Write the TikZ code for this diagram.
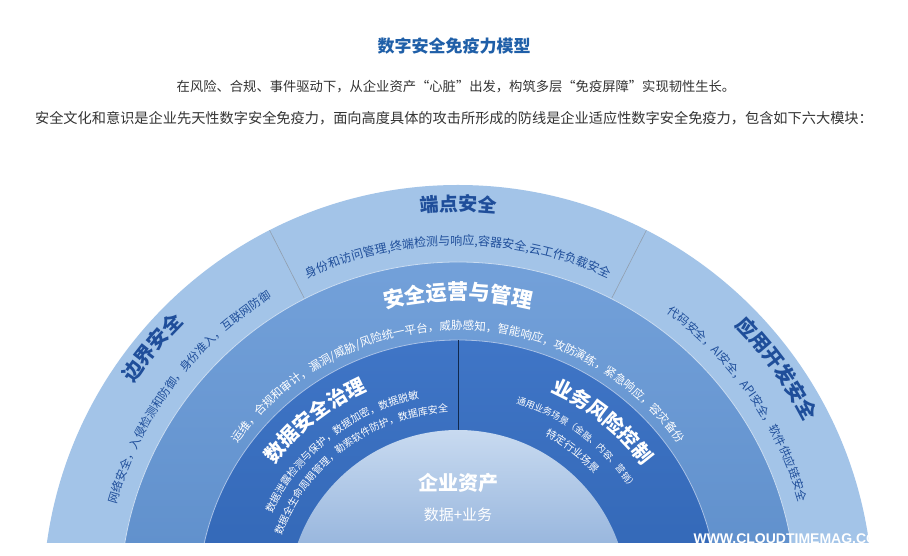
\documentclass[tikz,border=0pt]{standalone}
\usepackage{fontspec}
\setmainfont{Noto Sans CJK SC}
\newfontfamily\wmfont{Liberation Sans}
\usetikzlibrary{decorations.text}
\definecolor{ringA}{HTML}{A3C4E8}
\definecolor{ringB}{HTML}{5089D0}
\definecolor{ringC}{HTML}{2A66C0}
\definecolor{coreTop}{HTML}{C8DAF0}
\definecolor{coreBot}{HTML}{3C72BA}
\definecolor{darkblue}{HTML}{1F4E9A}
\definecolor{titleblue}{HTML}{1F5FA8}
\definecolor{txtgray}{HTML}{333333}
\newcommand\fsz[1]{\fontsize{#1}{#1}\selectfont}
\newcommand\arct[6]{% radius, center angle, half span, color, format, text
  \path[decorate, decoration={text along path, text align=center, text color=#4,
    text={|#5|#6}}] ({#2+#3}:#1) arc[start angle={#2+#3}, end angle={#2-#3}, radius=#1];}
\tikzset{divider/.style={draw=#1, line width=0.6pt}}
\begin{document}
\begin{tikzpicture}[x=1pt,y=1pt]
\useasboundingbox (0,0) rectangle (908,556);
\fill[white] (0,0) rectangle (908,556);
% header
\node[text=titleblue, font=\bfseries\fsz{17}] (title) at (454,510) {数字安全免疫力模型};
\node[text=txtgray, font=\fsz{13.3}] (l1) at (456,469) {在风险、合规、事件驱动下，从企业资产“心脏”出发，构筑多层“免疫屏障”实现韧性生长。};
\node[text=txtgray, font=\fsz{14.2}] (l2) at (454,438) {安全文化和意识是企业先天性数字安全免疫力，面向高度具体的攻击所形成的防线是企业适应性数字安全免疫力，包含如下六大模块：};
\begin{scope}
\clip (0,13) rectangle (908,556);
\begin{scope}[shift={(458,-44)}]
\fill[ringA] (0,0) circle[radius=415];
\draw[divider=ringA!60!black!70] (63:338) -- (63:415);
\draw[divider=ringA!60!black!70] (117:338) -- (117:415);
\shade[top color=ringB!80!white, bottom color=ringB!90!black] (0,0) circle[radius=338];
\draw[white!70!ringB, line width=0.8pt] (0,0) circle[radius=338];
\shade[top color=ringC!90!white, bottom color=ringC!85!black] (0,0) circle[radius=260];
\draw[white!60!ringC, line width=0.8pt] (0,0) circle[radius=260];
\draw[ringC!40!black, line width=0.8pt] (90:170) -- (90:260);
\shade[top color=coreTop, bottom color=coreBot] (0,0) circle[radius=170];
% outer ring texts
\arct{389}{90}{12}{darkblue}{\bfseries\fsz{19}}{端点安全}
\arct{355}{90}{40}{darkblue}{\fsz{12}}{身份和访问管理{,}终端检测与响应{,}容器安全{,}云工作负载安全}
\arct{390}{140.5}{20}{darkblue}{\bfseries\fsz{20}}{边界安全}
\arct{355}{143}{30}{darkblue}{\fsz{11.5}}{网络安全，入侵检测和防御，身份准入，互联网防御}
\arct{390}{36}{25}{darkblue}{\bfseries\fsz{20}}{应用开发安全}
\arct{355}{35}{30}{darkblue}{\fsz{11.5}}{代码安全，AI安全，API安全，软件供应链安全}
% ring 2
\arct{300}{90}{25}{white}{\bfseries\fsz{21}}{安全运营与管理}
\arct{270}{90}{65}{white}{\fsz{11.5}}{运维，合规和审计，漏洞/威胁/风险统一平台，威胁感知，智能响应，攻防演练，紧急响应，容灾备份}
% ring 3
\arct{228}{128.5}{30}{white}{\bfseries\fsz{20}}{数据安全治理}
\arct{205}{128}{35}{white}{\fsz{10.2}}{数据泄露检测与保护，数据加密，数据脱敏}
\arct{188}{126.5}{40}{white}{\fsz{10}}{数据全生命周期管理，勒索软件防护，数据库安全}
\arct{228}{51}{30}{white}{\bfseries\fsz{20}}{业务风险控制}
\arct{205}{53}{30}{white}{\fsz{9.2}}{通用业务场景（金融、内容、营销）}
\arct{186}{52.5}{20}{white}{\fsz{10.5}}{特定行业场景}
\end{scope}
\end{scope}
\node[text=white, font=\bfseries\fsz{20}] (core) at (458,73) {企业资产};
\node[text=white, font=\fsz{15}] (coresub) at (458,41) {数据+业务};
\node[text=white, font=\wmfont\bfseries\fsz{14}, anchor=base west] (wm) at (690,12) {WWW.CLOUDTIMEMAG.COM};
\end{tikzpicture}
\end{document}
